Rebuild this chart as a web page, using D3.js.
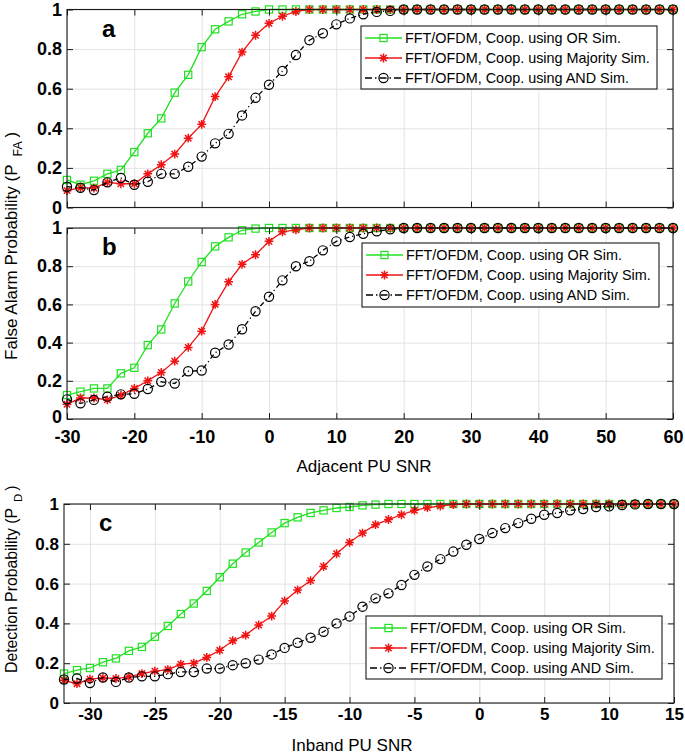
<!DOCTYPE html>
<html><head><meta charset="utf-8">
<script src="https://cdn.jsdelivr.net/npm/d3@7"></script>
<style>
html,body{margin:0;padding:0;background:#fff;}
svg{display:block;font-family:"Liberation Sans",Arial,Helvetica,sans-serif;}
</style></head>
<body>
<svg id="chart" width="685" height="756"></svg>
<script>
// ---------------- DATA ----------------
const snrAdjacent = [-30,-28,-26,-24,-22,-20,-18,-16,-14,-12,-10,-8,-6,-4,-2,0,2,4,6,8,10,12,14,16,18,20,22,24,26,28,30,32,34,36,38,40,42,44,46,48,50,52,54,56,58,60];
const snrInband = [-32,-31,-30,-29,-28,-27,-26,-25,-24,-23,-22,-21,-20,-19,-18,-17,-16,-15,-14,-13,-12,-11,-10,-9,-8,-7,-6,-5,-4,-3,-2,-1,0,1,2,3,4,5,6,7,8,9,10,11,12,13,14,15];

// panel a
const pfaA_OR  = [0.139,0.115,0.135,0.17,0.19,0.28,0.375,0.45,0.58,0.67,0.81,0.90,0.94,0.976,0.99,1,1,1,1,1,1,1,1,1,1,1,1,1,1,1,1,1,1,1,1,1,1,1,1,1,1,1,1,1,1,1];
const pfaA_MAJ = [0.085,0.10,0.098,0.127,0.12,0.12,0.17,0.216,0.27,0.35,0.42,0.56,0.66,0.785,0.87,0.93,0.966,0.99,1,1,1,1,1,1,1,1,1,1,1,1,1,1,1,1,1,1,1,1,1,1,1,1,1,1,1,1];
const pfaA_AND = [0.105,0.10,0.088,0.127,0.149,0.115,0.13,0.17,0.17,0.206,0.257,0.324,0.372,0.465,0.554,0.62,0.69,0.77,0.845,0.88,0.925,0.955,0.976,0.988,0.993,1,1,1,1,1,1,1,1,1,1,1,1,1,1,1,1,1,1,1,1,1];
// panel b
const pfaB_OR  = [0.125,0.143,0.16,0.16,0.239,0.268,0.387,0.469,0.605,0.72,0.822,0.904,0.951,0.988,0.997,1,1,1,1,1,1,1,1,1,1,1,1,1,1,1,1,1,1,1,1,1,1,1,1,1,1,1,1,1,1,1];
const pfaB_MAJ = [0.077,0.11,0.11,0.10,0.125,0.16,0.20,0.244,0.303,0.375,0.46,0.60,0.718,0.81,0.86,0.93,0.98,0.99,1,1,1,1,1,1,1,1,1,1,1,1,1,1,1,1,1,1,1,1,1,1,1,1,1,1,1,1];
const pfaB_AND = [0.103,0.082,0.10,0.117,0.129,0.132,0.157,0.195,0.186,0.25,0.254,0.347,0.39,0.47,0.564,0.64,0.726,0.80,0.826,0.883,0.93,0.953,0.97,0.983,0.993,1,1,1,1,1,1,1,1,1,1,1,1,1,1,1,1,1,1,1,1,1];
// panel c
const pdC_OR  = [0.148,0.165,0.176,0.205,0.224,0.262,0.282,0.333,0.387,0.447,0.50,0.563,0.632,0.70,0.756,0.807,0.857,0.904,0.933,0.955,0.968,0.98,0.985,0.993,0.997,1,1,1,1,1,1,1,1,1,1,1,1,1,1,1,1,1,1,1,1,1,1,1];
const pdC_MAJ = [0.114,0.097,0.12,0.126,0.123,0.131,0.148,0.16,0.168,0.195,0.20,0.229,0.265,0.313,0.341,0.392,0.437,0.513,0.568,0.615,0.686,0.75,0.807,0.854,0.896,0.922,0.946,0.968,0.982,0.99,0.997,1,1,1,1,1,1,1,1,1,1,1,1,1,1,1,1,1];
const pdC_AND = [0.118,0.123,0.10,0.128,0.106,0.128,0.134,0.134,0.145,0.156,0.156,0.173,0.173,0.19,0.20,0.218,0.244,0.277,0.303,0.328,0.358,0.40,0.435,0.484,0.526,0.551,0.593,0.644,0.686,0.723,0.761,0.795,0.824,0.854,0.879,0.904,0.926,0.946,0.955,0.968,0.975,0.985,0.988,0.995,0.998,1,1,1];

const seriesNames = ["FFT/OFDM, Coop. using OR Sim.","FFT/OFDM, Coop. using Majority Sim.","FFT/OFDM, Coop. using AND Sim."];
const yTicks = [0,0.2,0.4,0.6,0.8,1];
const yTickLabels = ["0","0.2","0.4","0.6","0.8","1"];
const xTicksAdjacent = [-30,-20,-10,0,10,20,30,40,50,60];
const xTicksInband = [-30,-25,-20,-15,-10,-5,0,5,10,15];
const panelLetters = ["a","b","c"];
const xTitles = ["Adjacent PU SNR","Inband PU SNR"];

// ---------------- STYLE / LAYOUT ----------------
const styles = [
  {color:"#22e022", marker:"square", dash:null},
  {color:"#f01414", marker:"star", dash:null},
  {color:"#000000", marker:"circle", dash:"5,3,1.2,3"}
];
const FONT = '"Liberation Sans",Arial,Helvetica,sans-serif';
const svg = d3.select("#chart");

const panels = [
  {letter:panelLetters[0], L:67, R:673, T:9.5, B:207.5, x:snrAdjacent, ys:[pfaA_OR,pfaA_MAJ,pfaA_AND], dom:[-30,60], ticks:xTicksAdjacent, xlabels:false, tickFont:18, pad:9.5, zeroShift:0, legend:{x:361,y:26,w:296,h:63}},
  {letter:panelLetters[1], L:67, R:673, T:228, B:419,   x:snrAdjacent, ys:[pfaB_OR,pfaB_MAJ,pfaB_AND], dom:[-30,60], ticks:xTicksAdjacent, xlabels:true,  tickFont:18, pad:11, zeroShift:-2.5, legend:{x:362,y:243,w:297,h:64}},
  {letter:panelLetters[2], L:64, R:674, T:504, B:703,   x:snrInband,   ys:[pdC_OR,pdC_MAJ,pdC_AND],    dom:[-32,15], ticks:xTicksInband,   xlabels:true,  tickFont:17,   pad:5, zeroShift:0, legend:{x:366,y:616,w:296,h:63}}
];

function drawMarker(g, type, cx, cy, color){
  if(type==="square"){
    g.append("rect").attr("x",cx-3.6).attr("y",cy-3.6).attr("width",7.2).attr("height",7.2)
      .attr("fill","none").attr("stroke",color).attr("stroke-width",1.2);
  } else if(type==="circle"){
    g.append("circle").attr("cx",cx).attr("cy",cy).attr("r",4.6)
      .attr("fill","none").attr("stroke",color).attr("stroke-width",1.2);
  } else {
    const r=4.4, d=r*0.72;
    g.append("path").attr("d",`M${cx-r},${cy}L${cx+r},${cy}M${cx},${cy-r}L${cx},${cy+r}M${cx-d},${cy-d}L${cx+d},${cy+d}M${cx-d},${cy+d}L${cx+d},${cy-d}`)
      .attr("stroke",color).attr("stroke-width",1.5).attr("fill","none");
  }
}

panels.forEach(p=>{
  const x = d3.scaleLinear().domain(p.dom).range([p.L,p.R]);
  const y = d3.scaleLinear().domain([0,1]).range([p.B,p.T]);
  const W = p.R-p.L, H = p.B-p.T;
  const g = svg.append("g");

  // grid
  g.append("g").attr("transform",`translate(0,${p.B})`)
    .call(d3.axisBottom(x).tickValues(p.ticks).tickSize(-H).tickFormat(""))
    .call(s=>{s.select(".domain").remove(); s.selectAll("line").attr("stroke","#e3e3e3").attr("stroke-width",1);});
  g.append("g").attr("transform",`translate(${p.L},0)`)
    .call(d3.axisLeft(y).tickValues(yTicks).tickSize(-W).tickFormat(""))
    .call(s=>{s.select(".domain").remove(); s.selectAll("line").attr("stroke","#e3e3e3").attr("stroke-width",1);});

  // series
  p.ys.forEach((vals,i)=>{
    const st = styles[i];
    const pts = p.x.map((xv,k)=>[xv,vals[k]]);
    const line = d3.line().x(d=>x(d[0])).y(d=>y(d[1]));
    g.append("path").datum(pts).attr("d",line).attr("fill","none")
      .attr("stroke",st.color).attr("stroke-width",1.3)
      .attr("stroke-dasharray",st.dash);
    const mg = g.append("g");
    pts.forEach(d=>drawMarker(mg, st.marker, x(d[0]), y(d[1]), st.color));
  });

  // axes (inward ticks on all sides)
  const bottom = g.append("g").attr("transform",`translate(0,${p.B})`)
    .call(d3.axisBottom(x).tickValues(p.ticks).tickSizeInner(-6).tickSizeOuter(0).tickPadding(p.pad)
      .tickFormat(p.xlabels? (d=>String(d)) : ""));
  const left = g.append("g").attr("transform",`translate(${p.L},0)`)
    .call(d3.axisLeft(y).tickValues(yTicks).tickSizeInner(-6).tickSizeOuter(0).tickPadding(5)
      .tickFormat((d,i)=>yTickLabels[i]));
  const top = g.append("g").attr("transform",`translate(0,${p.T})`)
    .call(d3.axisTop(x).tickValues(p.ticks).tickSizeInner(-6).tickSizeOuter(0).tickFormat(""));
  const right = g.append("g").attr("transform",`translate(${p.R},0)`)
    .call(d3.axisRight(y).tickValues(yTicks).tickSizeInner(-6).tickSizeOuter(0).tickFormat(""));
  [bottom,left,top,right].forEach(a=>{
    a.select(".domain").remove();
    a.selectAll("line").attr("stroke","#1a1a1a").attr("stroke-width",1);
    a.selectAll("text").attr("font-family",FONT).attr("font-weight","bold")
      .attr("font-size",p.tickFont).attr("fill","#000");
  });
  left.selectAll(".tick text").filter(d=>d===0).attr("y",p.zeroShift);
  g.append("rect").attr("x",p.L).attr("y",p.T).attr("width",W).attr("height",H)
    .attr("fill","none").attr("stroke","#1a1a1a").attr("stroke-width",1.1);

  // panel letter
  g.append("text").attr("x",p.L + 35).attr("y",p.T + 27)
    .attr("font-family",FONT).attr("font-weight","bold").attr("font-size",24).text(p.letter);

  // legend
  const lg = g.append("g");
  const Lb = p.legend;
  lg.append("rect").attr("x",Lb.x).attr("y",Lb.y).attr("width",Lb.w).attr("height",Lb.h)
    .attr("fill","#fff").attr("stroke","#1a1a1a").attr("stroke-width",1.1);
  seriesNames.forEach((name,i)=>{
    const st = styles[i];
    const cy = Lb.y + 12 + i*20;
    const x0 = Lb.x + 4, x1 = Lb.x + 41;
    lg.append("line").attr("x1",x0).attr("x2",x1).attr("y1",cy).attr("y2",cy)
      .attr("stroke",st.color).attr("stroke-width",1.3).attr("stroke-dasharray",st.dash? "7,3,1.5,3": null);
    drawMarker(lg, st.marker, (x0+x1)/2, cy, st.color);
    lg.append("text").attr("x",Lb.x+44).attr("y",cy+5).attr("font-family",FONT)
      .attr("font-size",14.4).attr("fill","#000").text(name);
  });
});

// x-axis titles
svg.append("text").attr("x",364).attr("y",472).attr("text-anchor","middle")
  .attr("font-family",FONT).attr("font-size",17).text(xTitles[0]);
svg.append("text").attr("x",352).attr("y",751).attr("text-anchor","middle")
  .attr("font-family",FONT).attr("font-size",17).text(xTitles[1]);

// y-axis titles with subscripts (text reads bottom-to-top, anchored at its start)
function yTitle(bx, startY, size, main, sub, gap1, gap2){
  const t = svg.append("text").attr("transform",`translate(${bx},${startY}) rotate(-90)`)
    .attr("text-anchor","start").attr("font-family",FONT).attr("font-size",size);
  t.append("tspan").text(main);
  t.append("tspan").attr("font-size",size*0.72).attr("dx",gap1).attr("dy",5).text(sub);
  t.append("tspan").attr("dx",gap2).attr("dy",-5).text(")");
}
yTitle(17, 360, 17, "False Alarm Probability (P", "FA", 8, 4);
yTitle(17, 673, 15.8, "Detection Probability (P", "D", 6, 3);
</script>
</body></html>
